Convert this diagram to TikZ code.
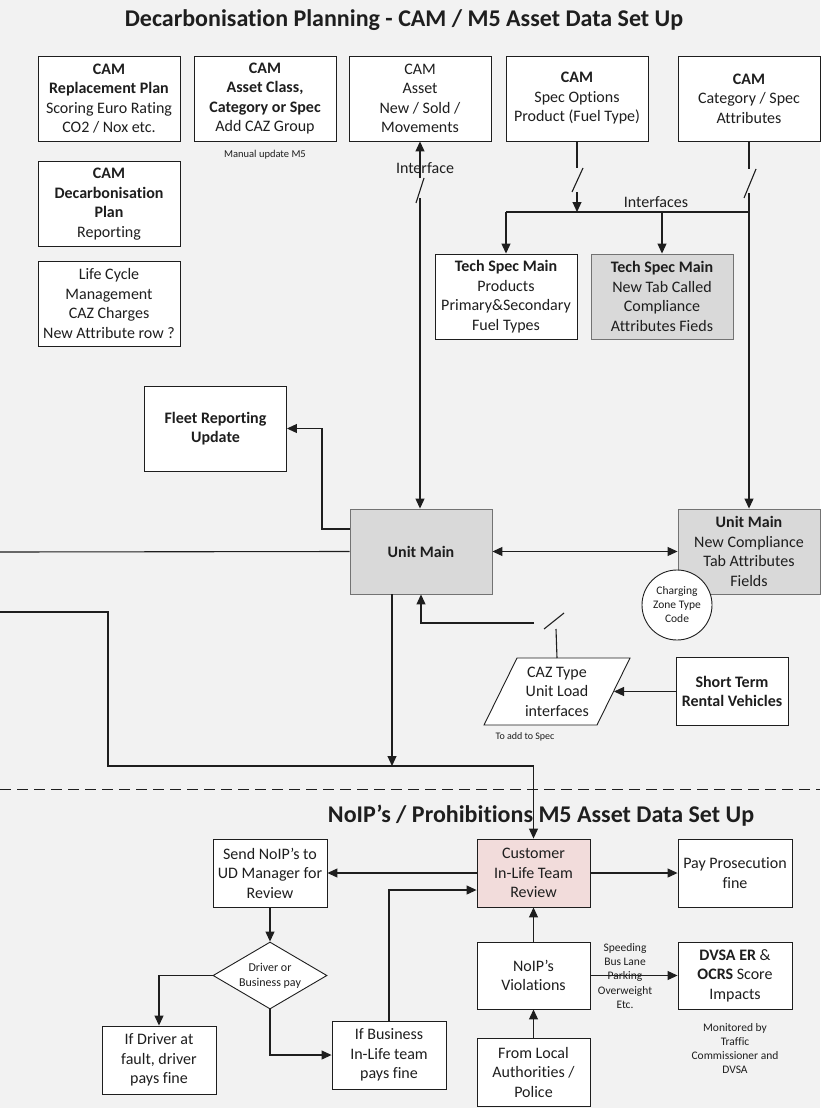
\documentclass[tikz,border=0pt]{standalone}
\usepackage{fontspec}
\setmainfont{Carlito}[Ligatures=NoCommon]
\usetikzlibrary{shapes.geometric,arrows.meta,calc}
\definecolor{paper}{RGB}{242,242,242}
\definecolor{boxgrey}{RGB}{217,217,217}
\definecolor{boxpink}{RGB}{242,220,219}
\definecolor{ink}{RGB}{30,30,30}

\begin{document}
\begin{tikzpicture}[x=1pt,y=-1pt,
  every node/.style={align=center, font=\fontsize{16}{19.5}\selectfont, inner sep=2pt, text=ink},
  box/.style={draw=ink, line width=0.9pt, fill=white, minimum width=142pt, minimum height=85pt},
  sbox/.style={box, minimum width=114pt, minimum height=68pt},
  greybox/.style={box, fill=boxgrey, draw=black!55},
  heading/.style={font=\fontsize{24}{28}\selectfont\bfseries},
  note/.style={font=\fontsize{11.5}{14.3}\selectfont},
  link/.style={line width=1.1pt, draw=ink},
  tip/.style={link, -{Triangle[length=10pt,width=9pt]}},
  both/.style={link, {Triangle[length=10pt,width=9pt]}-{Triangle[length=10pt,width=9pt]}},
  brk/.style={line width=1.1pt, draw=ink}
]
% page and paper tone
\fill[paper] (0,0) rectangle (820,1108);
\useasboundingbox (0,0) rectangle (820,1108);

% ---------- upper section: CAM / M5 asset data ----------
\node[heading] (title1) at (404,20) {Decarbonisation Planning - CAM / M5 Asset Data Set Up};

\node[box] (repl) at (109,98.5) {\textbf{CAM}\\\textbf{Replacement Plan}\\Scoring Euro Rating\\CO2 / Nox etc.};
\node[box] (aclass) at (265,98.5) {\textbf{CAM}\\\textbf{Asset Class,}\\\textbf{Category or Spec}\\Add CAZ Group};
\node[box] (asset) at (420,98.5) {CAM\\Asset\\New / Sold /\\Movements};
\node[box] (specopt) at (577,98.5) {\textbf{CAM}\\Spec Options\\Product (Fuel Type)};
\node[box] (catspec) at (749,98.5) {\textbf{CAM}\\Category / Spec\\Attributes};
\node[note, font=\fontsize{10.5}{13}\selectfont] (manual) at (265,155) {Manual update M5};

\node[box] (decarb) at (109,204) {\textbf{CAM}\\\textbf{Decarbonisation}\\\textbf{Plan}\\Reporting};
\node[box] (life) at (109,303.5) {Life Cycle\\Management\\CAZ Charges\\New Attribute row ?};

\node[box] (tech1) at (506,296.5) {\textbf{Tech Spec Main}\\Products\\Primary\&Secondary\\Fuel Types};
\node[greybox] (tech2) at (662,296.5) {\textbf{Tech Spec Main}\\New Tab Called\\Compliance\\Attributes Fieds};

\node[box] (fleet) at (215.5,428.5) {\textbf{Fleet Reporting}\\\textbf{Update}};
\node[greybox] (unit) at (421,551.5) {\textbf{Unit Main}};
\node[greybox] (unit2) at (749,551.5) {\textbf{Unit Main}\\New Compliance\\Tab Attributes\\Fields};
\node[circle, draw=ink, line width=0.9pt, fill=white, minimum size=70pt, inner sep=0pt,
      font=\fontsize{11.5}{14}\selectfont] (czt) at (677,605) {Charging\\Zone Type\\Code};

% CAZ load parallelogram
\draw[draw=ink, line width=0.9pt, fill=white] (517,658) -- (630,658) -- (597,725) -- (484,725) -- cycle;
\node (caz) at (557,691.5) {CAZ Type\\Unit Load\\interfaces};
\coordinate (cazTop) at (557,658);
\coordinate (cazR) at (614,691.5);
\node[note, font=\fontsize{10}{12}\selectfont] (toadd) at (525,737) {To add to Spec};
\node[box, minimum width=112pt, minimum height=68pt] (short) at (732,691.5) {\textbf{Short Term}\\\textbf{Rental Vehicles}};

% interface connector between CAM asset and Unit Main
\coordinate (ifA) at (420,178);
\coordinate (ifB) at (420,198);
\draw[tip] (ifA) -- (asset.south);
\draw[tip] (ifB) -- (ifB |- unit.north);
\node (iflabel) at (425,168) {Interface};
\coordinate (s1) at (420,190.5);
\draw[brk] ($(s1)+(-4,12.5)$) -- ($(s1)+(4,-12.5)$);

% interfaces from spec options and category attributes
\coordinate (soA) at (577,168);
\coordinate (soB) at (577,192);
\coordinate (bus1) at (506,212);
\coordinate (bus2) at (662,212);
\coordinate (bus3) at (749,212);
\draw[link] (specopt.south) -- (soA);
\draw[tip] (soB) -- (soB |- bus1);
\coordinate (s2) at (577.5,180);
\draw[brk] ($(s2)+(-5.5,12)$) -- ($(s2)+(5.5,-12)$);

\coordinate (csA) at (749,169);
\coordinate (csB) at (749,193);
\draw[link] (catspec.south) -- (csA);
\draw[tip] (csB) -- (unit2.north);
\coordinate (s3) at (750,183.5);
\draw[brk] ($(s3)+(-6,14.5)$) -- ($(s3)+(6,-14.5)$);

\draw[link] (bus1) -- (bus3);
\draw[tip] (bus1) -- (tech1.north);
\draw[tip] (bus2) -- (tech2.north);
\node (iflabel2) at (656,202) {Interfaces};

% Unit Main links
\coordinate (fr) at (322,529);
\draw[tip] (unit.west |- fr) -- (fr) |- (fleet.east);
\coordinate (leftA) at (0,552);
\draw[link] (leftA) -- (unit.west);
\draw[both] (unit.east) -- (unit2.west);

% CAZ load back into Unit Main
\coordinate (cazG) at (556,629);
\coordinate (cazH) at (534,623);
\draw[link] (cazTop) -- (cazG);
\draw[tip] (cazH) -| (unit.south);
\coordinate (s4) at (554,621);
\draw[brk] ($(s4)+(-10,8)$) -- ($(s4)+(10,-8)$);
\draw[tip] (short.west) -- (cazR);

% flow down into the NoIP section
\coordinate (j1) at (392,766);
\draw[tip] (unit.south -| j1) -- (j1);
\coordinate (leftB) at (0,612);
\coordinate (k) at (108,766);

% section divider
\draw[ink, line width=1pt, dash pattern=on 11pt off 6pt] (0,789) -- (820,789);

% ---------- lower section: NoIP's / prohibitions ----------
\node[heading] (title2) at (541,816) {NoIP’s / Prohibitions M5 Asset Data Set Up};

\node[sbox] (send) at (270,873) {Send NoIP’s to\\UD Manager for\\Review};
\node[sbox, minimum width=113pt, fill=boxpink] (cust) at (533.5,873) {Customer\\In-Life Team\\Review};
\node[sbox] (pay) at (735,873) {Pay Prosecution\\fine};
\node[diamond, shape aspect=1.7, draw=ink, line width=0.9pt, fill=white, minimum width=114pt, minimum height=67pt,
      inner sep=0pt, font=\fontsize{12}{15}\selectfont] (dec) at (270,975.5) {Driver or\\Business pay};
\node[sbox, minimum width=113pt, minimum height=67pt] (viol) at (533.5,975.5) {NoIP’s\\Violations};
\node[sbox, minimum height=67pt] (dvsa) at (735,975.5) {\textbf{DVSA ER} \&\\\textbf{OCRS} Score\\Impacts};
\node[sbox] (driver) at (159,1060) {If Driver at\\fault, driver\\pays fine};
\node[sbox] (business) at (389,1055) {If Business\\In-Life team\\pays fine};
\node[sbox, minimum width=113pt] (local) at (533.5,1072) {From Local\\Authorities /\\Police};
\node[note] (kinds) at (625,976) {Speeding\\Bus Lane\\Parking\\Overweight\\Etc.};
\node[note] (monitor) at (735,1048.5) {Monitored by\\Traffic\\Commissioner and\\DVSA};

\draw[tip] (leftB) -| (k) -| (cust.north);

\draw[tip] (cust.west) -- (send.east);
\draw[tip] (business.north) |- ($(cust.west)+(0,17)$);
\draw[tip] (send.south) -- (dec.north);
\draw[tip] (dec.west) -| (driver.north);
\draw[tip] (dec.south) |- (business.west);
\draw[tip] (cust.east) -- (pay.west);
\draw[tip] (viol.north) -- (cust.south);
\draw[tip] (viol.east) -- (dvsa.west);
\draw[tip] (local.north) -- (viol.south);
\end{tikzpicture}
\end{document}
